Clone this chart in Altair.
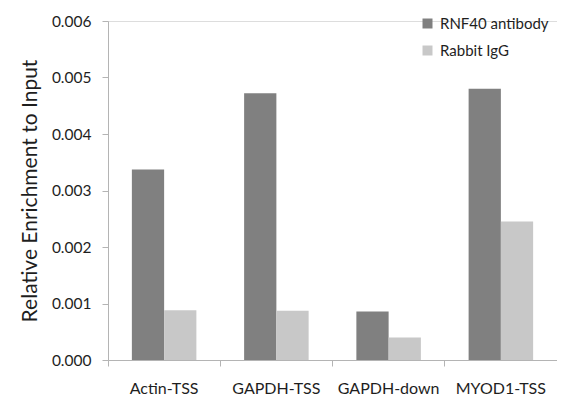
import altair as alt
import pandas as pd

categories = ["Actin-TSS", "GAPDH-TSS", "GAPDH-down", "MYOD1-TSS"]
series = ["RNF40 antibody", "Rabbit IgG"]
rnf40 = [0.00337, 0.00472, 0.00086, 0.00480]
igg = [0.00088, 0.00087, 0.00040, 0.00245]
y_ticks = [0.000, 0.001, 0.002, 0.003, 0.004, 0.005, 0.006]

rows = []
for c, a, b in zip(categories, rnf40, igg):
    rows.append({"target": c, "group": series[0], "value": a})
    rows.append({"target": c, "group": series[1], "value": b})
df = pd.DataFrame(rows)

FONT = "Lato"
AXIS_COLOR = "#b4b4b4"
TEXT_COLOR = "#1e1e1e"

chart = (
    alt.Chart(df)
    .mark_bar()
    .encode(
        x=alt.X(
            "target:N",
            sort=categories,
            title=None,
            scale=alt.Scale(paddingInner=0, paddingOuter=0),
            axis=alt.Axis(
                bandPosition=1,
                tickExtra=True,
                labelAngle=0,
                labelFont=FONT,
                labelFontSize=16,
                labelColor=TEXT_COLOR,
                labelPadding=14,
                tickSize=6,
                tickColor=AXIS_COLOR,
                domainColor=AXIS_COLOR,
                grid=False,
            ),
        ),
        xOffset=alt.XOffset(
            "group:N",
            sort=series,
            scale=alt.Scale(paddingInner=0, paddingOuter=0.74),
        ),
        y=alt.Y(
            "value:Q",
            title="Relative Enrichment to Input",
            scale=alt.Scale(domain=[0, 0.006], nice=False),
            axis=alt.Axis(
                values=y_ticks,
                format=".3f",
                grid=False,
                labelFont=FONT,
                labelFontSize=15.5,
                labelColor=TEXT_COLOR,
                labelPadding=11,
                tickSize=6,
                tickColor=AXIS_COLOR,
                domainColor=AXIS_COLOR,
                titleFont=FONT,
                titleFontSize=21,
                titleFontWeight="normal",
                titleColor=TEXT_COLOR,
                titlePadding=11,
            ),
        ),
        color=alt.Color(
            "group:N",
            sort=series,
            scale=alt.Scale(domain=series, range=["#808080", "#c8c8c8"]),
            legend=alt.Legend(
                title=None,
                orient="none",
                legendX=312,
                legendY=-5,
                symbolType="square",
                symbolSize=100,
                symbolStrokeWidth=0,
                labelFont=FONT,
                labelFontSize=15,
                labelColor=TEXT_COLOR,
                labelOffset=5,
                labelLimit=200,
                rowPadding=11,
            ),
        ),
    )
    .properties(
        width=449,
        height=339,
        autosize=alt.AutoSizeParams(type="none"),
        padding={"left": 100, "top": 13, "right": 0, "bottom": 35},
    )
    .configure_view(stroke=None)
    .configure(background="white")
)

chart.save("out.html", embed_options={"renderer": "svg", "actions": False})
